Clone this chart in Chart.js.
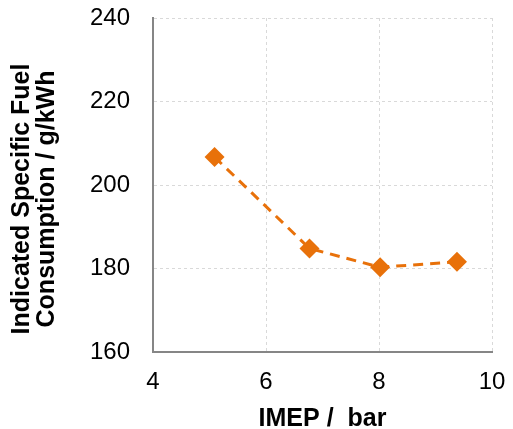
<!DOCTYPE html>
<html>
<head>
<meta charset="utf-8">
<script src="https://cdn.jsdelivr.net/npm/chart.js@4"></script>
<style>
  html, body { margin: 0; padding: 0; background: #fff; }
  canvas { display: block; }
</style>
</head>
<body>
<canvas id="chart" width="513" height="429"></canvas>
<script>
// Data
const imep = [5.09, 6.77, 8.02, 9.38];
const isfc = [206.7, 184.8, 180.3, 181.6];
const xTicks = [4, 6, 8, 10];
const yTicks = [160, 180, 200, 220, 240];
const xTitle = 'IMEP /  bar';
const yTitle = ['Indicated Specific Fuel', 'Consumption / g/kWh'];

const orange = '#E8710A';
const axisGray = '#868686';
const gridGray = '#d9d9d9';

// Draw the two-line y title by hand so each line sits where the reference has it
const yTitlePlugin = {
  id: 'yTitle',
  afterDraw(chart) {
    const ctx = chart.ctx;
    ctx.save();
    ctx.font = 'bold 25px "Liberation Sans", Arial, sans-serif';
    ctx.fillStyle = '#000';
    ctx.textAlign = 'center';
    ctx.textBaseline = 'middle';
    ctx.translate(0, 199);
    ctx.rotate(-Math.PI / 2);
    ctx.fillText(yTitle[0], 0, 22);
    ctx.fillText(yTitle[1], 0, 47);
    ctx.restore();
  }
};

new Chart(document.getElementById('chart'), {
  type: 'scatter',
  data: {
    datasets: [{
      data: imep.map((x, i) => ({ x: x, y: isfc[i] })),
      showLine: true,
      borderColor: orange,
      borderWidth: 3,
      borderDash: [10, 7],
      backgroundColor: orange,
      pointStyle: 'rectRot',
      pointRadius: 10,
      pointBorderWidth: 0,
      pointBackgroundColor: orange
    }]
  },
  options: {
    responsive: false,
    animation: false,
    layout: { padding: { top: 18, right: 21, left: 0, bottom: 0 } },
    plugins: { legend: { display: false }, tooltip: { enabled: false } },
    scales: {
      x: {
        type: 'linear',
        min: 4, max: 10,
        afterBuildTicks: (s) => { s.ticks = xTicks.map(v => ({ value: v })); },
        afterFit: (s) => {
          s.height = 77;
          s.paddingLeft = 0;
          s.paddingRight = 0;
        },
        grid: { color: gridGray, lineWidth: 1, drawTicks: false },
        border: { display: true, color: axisGray, width: 2, dash: [3, 3] },
        ticks: {
          padding: 16,
          color: '#000',
          font: { family: '"Liberation Sans", Arial, sans-serif', size: 24 }
        },
        title: {
          display: true,
          text: xTitle,
          color: '#000',
          padding: { top: 0, bottom: -3 },
          font: { family: '"Liberation Sans", Arial, sans-serif', size: 25, weight: 'bold', lineHeight: 1 }
        }
      },
      y: {
        type: 'linear',
        min: 160, max: 240,
        afterBuildTicks: (s) => { s.ticks = yTicks.map(v => ({ value: v })); },
        afterFit: (s) => {
          s.width = 153;
          s.paddingTop = 0;
          s.paddingBottom = 0;
        },
        grid: { color: gridGray, lineWidth: 1, drawTicks: false },
        border: { display: true, color: axisGray, width: 2, dash: [3, 3] },
        ticks: {
          padding: 23,
          color: '#000',
          font: { family: '"Liberation Sans", Arial, sans-serif', size: 24 }
        }
      }
    }
  },
  plugins: [yTitlePlugin]
});
</script>
</body>
</html>
